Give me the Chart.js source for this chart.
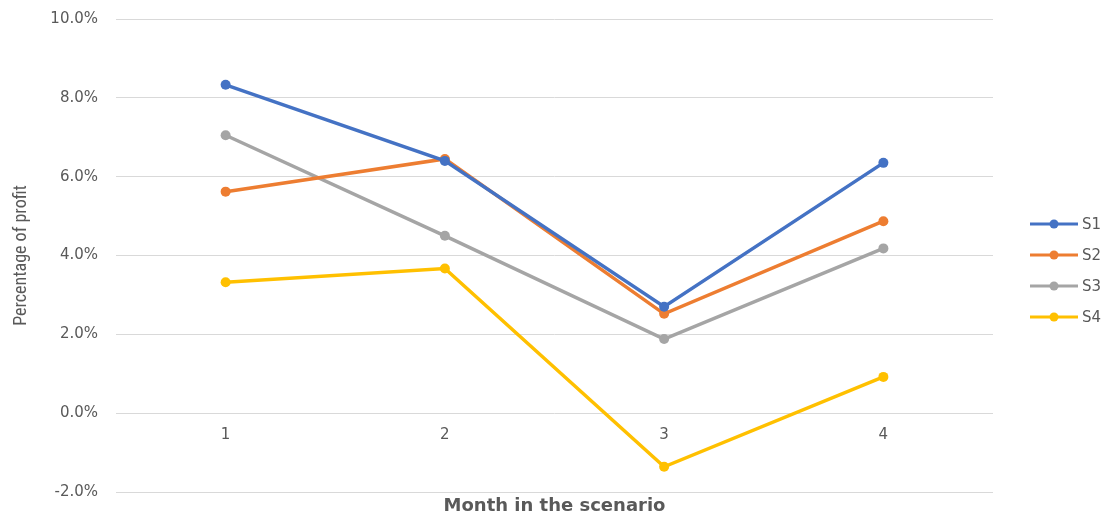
<!DOCTYPE html>
<html>
<head>
<meta charset="utf-8">
<title>Percentage of profit by month</title>
<script src="https://cdn.jsdelivr.net/npm/chart.js@4.4.1/dist/chart.umd.min.js"></script>
<style>
  html, body { margin: 0; padding: 0; background: #fff; }
  #wrap { width: 1110px; height: 517px; }
</style>
</head>
<body>
<div id="wrap"><canvas id="profitChart"></canvas></div>
<script>
// --- data ---
const months = ['1', '2', '3', '4'];
const seriesNames = ['S1', 'S2', 'S3', 'S4'];
const s1 = [8.33, 6.40, 2.70, 6.35];
const s2 = [5.62, 6.45, 2.52, 4.87];
const s3 = [7.05, 4.50, 1.88, 4.18];
const s4 = [3.32, 3.67, -1.36, 0.92];
const seriesColors = ['#4472C4', '#ED7D31', '#A5A5A5', '#FFC000'];

const yMin = -2, yMax = 10, yStep = 2;

const textGray = '#595959';
const gridGray = '#d9d9d9';
const uiFont = 'Verdana, "DejaVu Sans", sans-serif';

function makeSeries(name, values, color) {
  return {
    label: name,
    data: values,
    borderColor: color,
    backgroundColor: color,
    borderWidth: 3.5,
    pointRadius: 5,
    pointHoverRadius: 5,
    pointBorderWidth: 0,
    pointBackgroundColor: color,
    tension: 0,
    clip: false
  };
}

// Excel-style legend on the right: short line with a dot, then the name
const sideLegend = {
  id: 'sideLegend',
  afterDraw(chart, args, opts) {
    const ctx = chart.ctx;
    ctx.save();
    ctx.font = '15px ' + uiFont;
    ctx.textBaseline = 'middle';
    ctx.textAlign = 'left';
    chart.data.datasets.forEach((ds, i) => {
      const y = opts.top + i * opts.gap;
      ctx.strokeStyle = ds.borderColor;
      ctx.lineWidth = 3;
      ctx.beginPath();
      ctx.moveTo(opts.x, y);
      ctx.lineTo(opts.x + opts.lineLen, y);
      ctx.stroke();
      ctx.fillStyle = ds.borderColor;
      ctx.beginPath();
      ctx.arc(opts.x + opts.lineLen / 2, y, 4.5, 0, Math.PI * 2);
      ctx.fill();
      ctx.fillStyle = textGray;
      ctx.fillText(ds.label, opts.x + opts.lineLen + 4, y + 1);
    });
    ctx.restore();
  }
};

const ctx = document.getElementById('profitChart').getContext('2d');
new Chart(ctx, {
  type: 'line',
  data: {
    labels: months,
    datasets: [
      makeSeries(seriesNames[0], s1, seriesColors[0]),
      makeSeries(seriesNames[1], s2, seriesColors[1]),
      makeSeries(seriesNames[2], s3, seriesColors[2]),
      makeSeries(seriesNames[3], s4, seriesColors[3])
    ]
  },
  options: {
    responsive: true,
    maintainAspectRatio: false,
    animation: false,
    layout: { padding: { top: 19, right: 117, left: 0, bottom: 0 } },
    plugins: {
      legend: { display: false },
      tooltip: { enabled: false },
      sideLegend: { x: 1030, lineLen: 48, top: 224, gap: 31 }
    },
    scales: {
      // bottom axis only carries the title
      x: {
        type: 'category',
        offset: true,
        grid: { display: false, drawTicks: false },
        border: { display: false },
        ticks: { display: false },
        title: {
          display: true,
          text: 'Month in the scenario',
          color: textGray,
          font: { family: uiFont, size: 18, weight: 'bold' },
          padding: { top: 0, bottom: 0 }
        },
        afterFit(scale) { scale.height = 25; }
      },
      // category labels sit on the 0% line
      xZero: {
        type: 'category',
        labels: months,
        offset: true,
        position: { y: 0 },
        grid: { display: false, drawTicks: false },
        border: { display: false },
        ticks: {
          color: textGray,
          font: { family: uiFont, size: 15 },
          padding: 13
        }
      },
      y: {
        min: yMin,
        max: yMax,
        grid: { color: gridGray, lineWidth: 1, drawTicks: false },
        border: { display: false },
        ticks: {
          stepSize: yStep,
          color: textGray,
          font: { family: uiFont, size: 15 },
          padding: 18,
          callback: (v) => v.toFixed(1) + '%'
        },
        title: {
          display: true,
          text: 'Percentage of profit',
          color: textGray,
          font: { family: '"Liberation Sans Narrow", "Roboto Condensed", Roboto, sans-serif', size: 18 },
          padding: { top: 11, bottom: 0 }
        },
        afterFit(scale) {
          scale.width = 116;
          scale.paddingTop = 0;
          scale.paddingBottom = 0;
        }
      }
    }
  },
  plugins: [sideLegend]
});
</script>
</body>
</html>
